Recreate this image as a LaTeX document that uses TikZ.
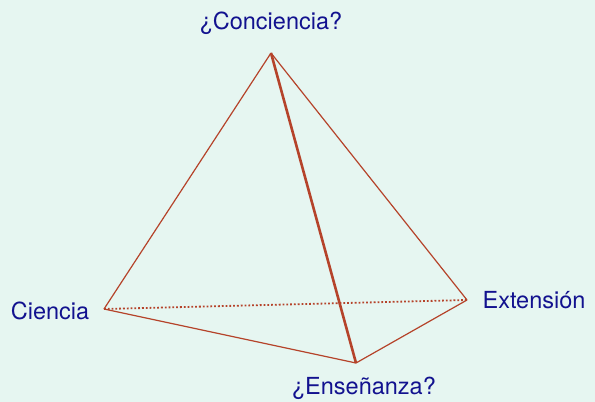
\documentclass[tikz,border=0pt]{standalone}
\usepackage{fontspec}
\setmainfont{TeX Gyre Heros}
\usetikzlibrary{positioning}
\definecolor{bgmint}{HTML}{E6F6F1}
\definecolor{rust}{HTML}{B5432A}
\definecolor{inkblue}{HTML}{12128F}

\begin{document}
\begin{tikzpicture}[
  x=1pt,y=-1pt,
  every node/.style={font=\fontsize{23.5}{27}\selectfont,text=inkblue,inner sep=0pt},
  edge/.style={draw=rust,line width=1.2pt},
  backedge/.style={edge,line width=1.8pt,dotted},
  frontedge/.style={edge,line width=2.6pt}
]
  \fill[bgmint] (0,0) rectangle (595,402);
  \useasboundingbox (0,0) rectangle (595,402);
  \coordinate (top) at (271,53);
  \coordinate (left) at (104,309);
  \coordinate (right) at (467,300);
  \coordinate (front) at (356,363);
  \node (conciencia) at (271,23) {¿Conciencia?};
  \node (ciencia) at (50,311) {Ciencia};
  \node (extension) at (534,300) {Extensión};
  \node (ensenanza) at (364,388) {¿Enseñanza?};
  \draw[backedge] (left) -- (right);
  \draw[edge] (top) -- (left);
  \draw[edge] (top) -- (right);
  \draw[edge] (left) -- (front);
  \draw[edge] (front) -- (right);
  \draw[frontedge] (top) -- (front);
\end{tikzpicture}
\end{document}
